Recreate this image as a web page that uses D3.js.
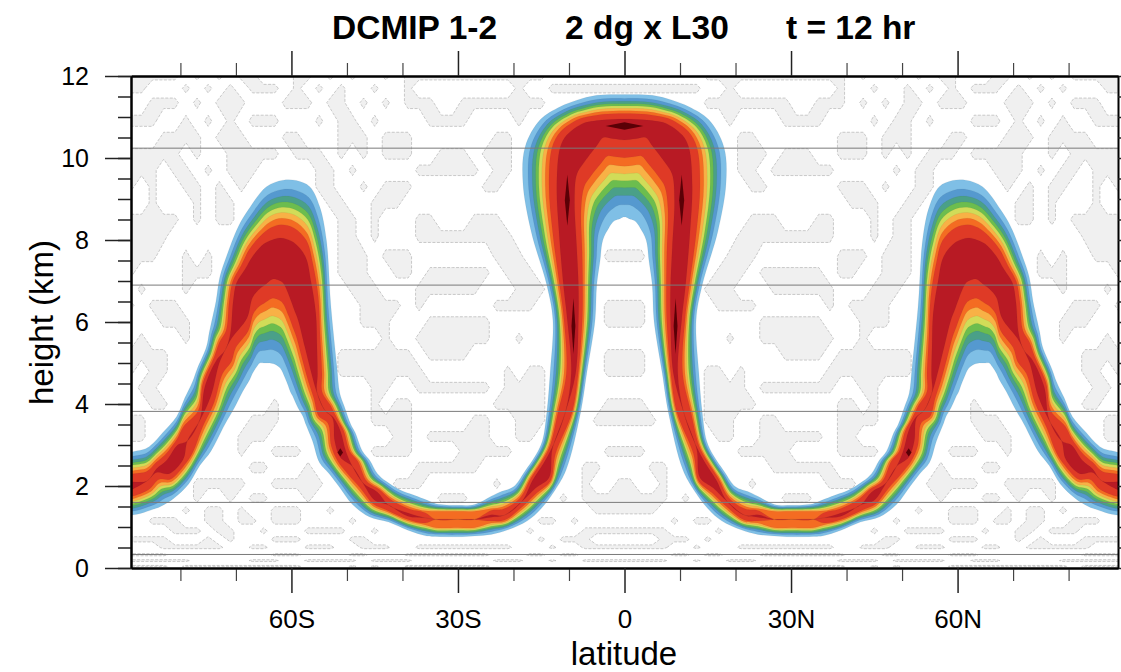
<!DOCTYPE html>
<html><head><meta charset="utf-8">
<script src="https://cdn.jsdelivr.net/npm/d3@7/dist/d3.min.js"></script>
<style>html,body{margin:0;padding:0;background:#fff}svg{display:block}text{font-family:"Liberation Sans",Arial,sans-serif;fill:#000}</style>
</head><body><svg id="c" width="1121" height="672"></svg>
<script>
// Tracer tube, left half (mirrored for the right half). Each index is one cross-section.
const upLat=[-90,-86.1,-84.5,-83.2,-80.7,-79.2,-77.8,-77,-75.3,-74.8,-74.4,-73.6,-72.9,-71.7,-69.6,-67.8,-64.5,-61.5,-59.1,-56.7,-54.9,-53.7,-52.9,-51.8,-51.3,-50.5,-49.3,-48.5,-47.2,-45.9,-44.5,-43,-40.4,-38,-35.5,-34,-30,-27,-24,-22.5,-20,-18,-16,-14.8,-14,-13.4,-12.9,-14,-16.8,-18.3,-17.9,-15.2,-11.6,-8.6,-5,0];
const upZ=[2.72,2.92,3.1,3.3,3.69,4.15,4.55,4.85,5.4,5.75,6,6.5,7.1,7.6,8.32,8.73,9.3,9.46,9.45,9.3,8.81,8,6.4,4.9,4.27,3.95,3.5,3.3,2.85,2.63,2.3,2.12,1.9,1.78,1.65,1.57,1.53,1.55,1.75,1.85,1.98,2.35,2.75,3.1,3.8,4.75,6.05,6.9,8.2,9.4,10.27,10.93,11.25,11.41,11.53,11.55];
const loLat=[-90,-84.5,-82.5,-81,-78.5,-76.5,-74.5,-72,-70.3,-68.8,-67.5,-67,-66.3,-65.7,-65,-64.4,-63.9,-63,-62,-61.2,-60.6,-60.2,-59.8,-58.8,-57.9,-57.4,-56.2,-54.9,-53.2,-51.5,-49,-46,-42.5,-39,-35.6,-34,-30,-27,-24,-21,-17.5,-15,-12.5,-10.5,-7.9,-6.8,-5.3,-5,-4.4,-3.9,-2.8,-2,-1.3,-0.8,-0.4,0];
const loZ=[1.33,1.45,1.58,1.72,2.05,2.5,2.85,3.5,3.9,4.3,4.6,4.75,4.9,5,5,5,5,4.97,4.87,4.65,4.45,4.3,4.2,3.9,3.69,3.5,3.1,2.56,2.3,2,1.55,1.25,1.12,0.92,0.78,0.77,0.76,0.78,0.82,0.93,1.15,1.45,1.9,2.4,3.8,4.75,6.05,6.9,7.5,8,8.3,8.45,8.5,8.52,8.55,8.56];
const coreUpLat=[-90,-86,-84.3,-82.5,-80.5,-79.5,-76.5,-75.6,-73.5,-72.6,-71,-70.5,-69.9,-68.3,-67,-65,-63.5,-62,-59.7,-57.5,-56.5,-55.6,-55.4,-55.3,-55.4,-53.4,-52.5,-51.2,-50.2,-48.5,-47,-44.5,-42.5,-39,-36,-34,-30,-27,-24,-21.7,-18.5,-16.5,-14.6,-13,-11.5,-9.6,-10.3,-11,-11.8,-12.2,-11.6,-10.4,-7.4,-5.5,-3.5,0];
const coreUpZ=[2.07,2.25,2.42,2.62,3,3.3,3.62,4.42,5.07,5.45,5.72,6.5,6.95,7.3,7.6,7.9,8,8.05,7.95,7.6,7,6.2,5.4,4.7,4.3,3.95,3.68,3.35,2.85,2.6,2.06,1.85,1.62,1.34,1.3,1.37,1.37,1.37,1.3,1.35,1.62,2.15,2.55,2.95,3.8,4.75,6.05,6.9,8.2,9.3,10.25,10.56,10.85,10.9,10.93,10.95];
const coreLoLat=[-90,-86,-84.3,-82,-79.5,-78,-76.5,-74.5,-73,-71.2,-70.8,-68,-67,-65.8,-64.8,-64.2,-63.3,-62.3,-61.5,-60.3,-59.5,-58.8,-57.6,-56.3,-55.4,-54.6,-52.6,-52.2,-51.2,-49.5,-47,-45,-42.5,-39,-36,-34,-30,-27,-24,-21.7,-18.5,-16,-13.6,-13,-9.8,-8.8,-8.3,-8.3,-8.6,-9,-8.6,-7.4,-5,-3.8,-2,0];
const coreLoZ=[1.88,2,2.33,2.3,2.65,2.9,3.6,4.2,5,5.2,5.6,6.1,6.6,6.8,6.9,6.97,7.05,7.02,6.95,6.6,6.3,6.05,5.4,4.7,4.28,3.75,3.66,3.1,2.7,2.35,2.04,1.65,1.45,1.26,1.15,1,1,1,1.24,1.22,1.62,1.95,2.2,2.9,3.8,4.75,6.05,6.9,7.8,8.97,9.6,9.87,10.3,10.5,10.47,10.44];
const peak=[1,.92,1,1,1,.93,1,1,1,.93,1,1,1,1,1,1,1,1,1,1,1,1,1,1,1,.93,1,1,1,.93,1,1,.93,1,.9,.71,.71,.71,1,.93,1,1,1,1,.95,1,1,1,1,1,1,1,1,1,1,1];
// Contour levels (fraction of the local peak) and their fill colours
const levels=[0,.16,.28,.38,.47,.56,.66,.77,1];
const bandColors=["#7FBFE6","#5599CF","#4AA088","#6CBD4E","#D1DC58","#F8B146","#F46C22","#DF3A26","#B81A24"];
// Darkest spots: centre and half size
const spotLat=[0,-10.3,-9.2,-51.2];
const spotZ=[10.78,8.97,5.9,2.82];
const spotHalfLat=[3.4,.45,.35,.5];
const spotHalfZ=[.09,.62,.68,.1];
const spotColor="#5A0006";
// Weak negative values: one row per height, one character per 2 degree column from 89S to 1S
const patchLats=d3.range(-89,0,2);
const patchZ=[12,11.7,11.35,10.9,10.5,10.1,9.7,9.3,8.9,8.5,8.1,7.6,7.2,6.8,6.4,6,5.6,5.2,4.8,4.4,4,3.6,3.2,2.85,2.45,2.05,1.7,1.4,1.15,.9,.7,.5,.41,.32,.25,.18,.11,.04];
const patchRows=[
"##### .#.#. ##... ##.#. #..#. ##### ##### ###.. .....",
"##... #.#.# .###. #.#.# ..#.. #.... ..... #..## #####",
"..### .#.## #...# ##.## .#.#. ###.. ##### ###.. .....",
"###.. #.#.# .###. ..#.# #.#.. ..### #.... #.... .....",
"...## ##.## #...# #...# ##.## #.... ...## ..... .....",
"##### .#..# ####. ###.# .#.## #..## #.### ..... .....",
"###.# #.#.# ##... ..##. #.... .#### ##.## ..... .....",
"#.#.. ##.#. #.... ..##. .#.## #.... ..##. ..... .....",
"..#.. .#.## ..... ...## ..### ..... ..... ..... .....",
"##### .#.## ..... ....# #.#.. .##.. .###. ..... .....",
"####. ..... ..... ....# #.#.. .#### ##### ..... .....",
"###.. #.#.. ..... ....# ##.## #.... ...## #.... ...##",
"#.... ###.. ..... ....# ##..# #.### ###.# ##... .....",
".#... #.... ..... ..... ###.. .#### ##... ###.. .....",
"#.### ..... ..... ..... .#### .#... ...## ##... ...##",
"...## #.... ..... ..... .###. ..### ###.. ..... ...##",
".#... #.... ..... ..... ...#. .#### ###.. #.... .....",
"####. ..... ..... ....# ##### #.### #.... ..... ...##",
"#.##. ..... ..... ....# ##### ##... ....# .##.. ...##",
".##.. ..... ..... ..... ..##. .#### ###.# ###.. .....",
"..##. ..... ...#. ..... ..#.# #.... ...## ###.. ...##",
"##... ..... .###. ..... ..### #.... .##.. ###.. ..###",
"##... ..... ###.. ..... ....# #.### ###.. ##... .....",
"..... ..... #..## #.... ..### #.... ##### ..... ...##",
"..... ..... .##.. .#... ..... .#### ##... ..... .##..",
"..... .#### #..## ###.. ....# ##... ...#. ..... .#..#",
"..... .#..# .##.. .#... ..... ...## #.... ....# .####",
"..... #.##. #..## #..#. ..... ..... ..... ..... ..###",
"..### ..##. ##.## #.... #.... ..... ..... ..##. #....",
"....# ##.## ..#.. .#### ..#.. ..... ..... .#... .####",
"####. ..#.# ...## #.... ##... ..... ..... ..#.# ##...",
"...## ####. .##.. .###. .###. .#### ##### ...#. .####",
"..... ..... ..... ..... ..... ..... ..... ..... .....",
"####. ..... ...## #.... ##... ##### ###.. .##.# #....",
"..... ..... ..... ..... ..... ..... ..... ..... .....",
"##### #.... .###. .#### #.### #.... ...## #..#. .####",
"..... ..... ..... ..... ..... ..... ..... ..... .....",
"####. ##### ##### #.... #.#.. ##### ###.. ..... ....."
];
// Model-level lines
const lineZ=[10.24,6.9,3.82,1.6,.33];
// Ticks
const yMajor=[0,2,4,6,8,10,12];
const yMinor=d3.range(0,12.01,.5);
const xMajor=[-60,-30,0,30,60];
const xLabels=["60S","30S","0","30N","60N"];
const xMinor=[-80,-70,-50,-40,-20,-10,10,20,40,50,70,80];

const svg=d3.select("#c");
const x=d3.scaleLinear([-88.9,88.9],[131,1118]);
const y=d3.scaleLinear([0,12],[568,76]);
svg.append("defs").append("clipPath").attr("id","p").append("rect")
  .attr("x",x.range()[0]).attr("y",y.range()[1]).attr("width",x.range()[1]-x.range()[0]).attr("height",y.range()[0]-y.range()[1]);
const plot=svg.append("g").attr("clip-path","url(#p)");

// Gray patches through d3.contours on the typed grid
const nRows=patchZ.length, nCols=patchLats.length*2;
const vals=[];
patchRows.forEach(r=>{const c=r.replace(/ /g,"").split("").map(ch=>ch==="#"?1:0);vals.push(...c,...c.slice().reverse());});
const latIdx=d3.scaleLinear([0,nCols-1],[-89,89]);
const zIdx=d3.scaleLinear(d3.range(nRows),patchZ);
const cont=d3.contours().size([nCols,nRows]).thresholds([.68])(vals);
const proj=d3.geoTransform({point(a,b){this.stream.point(x(latIdx(a-.5)),y(zIdx(Math.max(0,Math.min(nRows-1,b-.5)))));}});
plot.selectAll("path.patch").data(cont).join("path").attr("class","patch")
  .attr("d",d3.geoPath(proj)).attr("fill","#F0F0F0").attr("stroke","#B4B4B4").attr("stroke-width",.7).attr("stroke-dasharray","3 1.5");

// Tube bands
const n=upLat.length;
const lerp=(a,b,t)=>a+(b-a)*t;
function halfEdges(f){
  const up=[],lo=[];
  for(let i=0;i<n;i++){
    const t=f/peak[i];
    if(t>1+1e-9){
      const la=(coreUpLat[i]+coreLoLat[i])/2, zz=(coreUpZ[i]+coreLoZ[i])/2;
      up.push([la,zz]);lo.push([la,zz]);
    }else{
      up.push([lerp(upLat[i],coreUpLat[i],t),lerp(upZ[i],coreUpZ[i],t)]);
      lo.push([lerp(loLat[i],coreLoLat[i],t),lerp(loZ[i],coreLoZ[i],t)]);
    }
  }
  return {up,lo};
}
const mirror=a=>a.slice(0,-1).reverse().map(p=>[-p[0],p[1]]);
const line=d3.line().x(p=>x(p[0])).y(p=>y(p[1]));
const smooth=d3.line().x(p=>x(p[0])).y(p=>y(p[1])).curve(d3.curveCatmullRomClosed.alpha(.5));
levels.forEach((f,k)=>{
  const {up,lo}=halfEdges(f);
  const top=up.concat(mirror(up));
  const bot=lo.concat(mirror(lo));
  const poly=top.concat(bot.reverse());
  plot.append("path").attr("d",smooth(poly)).attr("fill",bandColors[k])
    .attr("stroke","#333").attr("stroke-opacity",.12).attr("stroke-width",.5);
});
// Darkest spots
const spots=[];
spotLat.forEach((la,i)=>{
  [1,-1].forEach(s=>{
    if(la===0&&s<0)return;
    const c=la*s;
    spots.push([[c-spotHalfLat[i],spotZ[i]],[c,spotZ[i]+spotHalfZ[i]],[c+spotHalfLat[i],spotZ[i]],[c,spotZ[i]-spotHalfZ[i]]]);
  });
});
plot.selectAll("path.spot").data(spots).join("path").attr("class","spot").attr("d",d=>line(d)+"Z").attr("fill",spotColor);

// Level lines
plot.selectAll("line.lev").data(lineZ).join("line").attr("class","lev")
  .attr("x1",x.range()[0]).attr("x2",x.range()[1]).attr("y1",d=>y(d)).attr("y2",d=>y(d))
  .attr("stroke","#7a7a7a").attr("stroke-width",1);

// Axes
function sty(g,w,c){g.select(".domain").attr("stroke","#000").attr("stroke-width",2);g.selectAll("line").attr("stroke",c||"#222").attr("stroke-width",w);}
const axG=svg.append("g");
axG.append("g").attr("transform",`translate(${x.range()[0]},0)`).call(d3.axisLeft(y).tickValues(yMinor).tickSize(13).tickSizeOuter(0).tickFormat("")).call(sty,1.5);
axG.append("g").attr("transform",`translate(${x.range()[1]},0)`).call(d3.axisRight(y).tickValues(yMinor).tickSize(13).tickSizeOuter(0).tickFormat("")).call(sty,1.5);
const yAx=axG.append("g").attr("transform",`translate(${x.range()[0]},0)`).call(d3.axisLeft(y).tickValues(yMajor).tickSize(26).tickSizeOuter(0).tickPadding(16).tickFormat(d3.format("d"))).call(sty,1.5);
yAx.selectAll("text").attr("font-size",25).attr("font-family","Liberation Sans").attr("dy","0.34em");
axG.append("g").attr("transform",`translate(0,${y.range()[1]})`).call(d3.axisTop(x).tickValues(xMinor).tickSize(13).tickSizeOuter(0).tickFormat("")).call(sty,1.2,"#444");
axG.append("g").attr("transform",`translate(0,${y.range()[1]})`).call(d3.axisTop(x).tickValues(xMajor).tickSize(25).tickSizeOuter(0).tickFormat("")).call(sty,1.5);
axG.append("g").attr("transform",`translate(0,${y.range()[0]})`).call(d3.axisBottom(x).tickValues(xMinor).tickSize(13).tickSizeOuter(0).tickFormat("")).call(sty,1.2,"#444");
const xAx=axG.append("g").attr("transform",`translate(0,${y.range()[0]})`).call(d3.axisBottom(x).tickValues(xMajor).tickSize(25).tickSizeOuter(0).tickPadding(17).tickFormat((d,i)=>xLabels[i])).call(sty,1.5);
xAx.selectAll("text").attr("font-size",26).attr("font-family","Liberation Sans");

// Titles
const titles=[["DCMIP 1-2",332],["2 dg x L30",565],["t = 12 hr",786]];
svg.selectAll("text.t").data(titles).join("text").attr("class","t").attr("x",d=>d[1]).attr("y",39)
  .attr("font-size",33.5).attr("font-weight","bold").text(d=>d[0]);
svg.append("text").attr("x",624).attr("y",665).attr("text-anchor","middle").attr("font-size",33).text("latitude");
svg.append("text").attr("transform","translate(53,322.5) rotate(-90)").attr("text-anchor","middle").attr("font-size",33).text("height (km)");
</script></body></html>
